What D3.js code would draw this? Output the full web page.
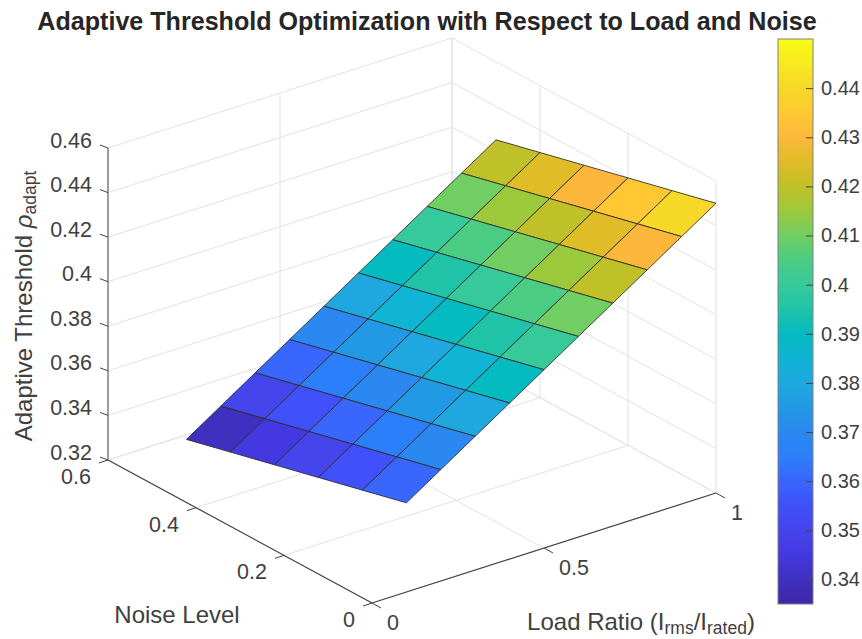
<!DOCTYPE html>
<html>
<head>
<meta charset="utf-8">
<style>
html,body{margin:0;padding:0;background:#fff;}
svg{display:block;}
text{font-family:"Liberation Sans",Arial,sans-serif;fill:#404040;}
</style>
<script src="https://cdnjs.cloudflare.com/ajax/libs/d3/7.8.5/d3.min.js"></script>
</head>
<body>
<svg id="chart" width="862" height="639"></svg>
<script>
const loadRatios = [0.1,0.2,0.3,0.4,0.5,0.6,0.7,0.8,0.9,1.0];
const noiseLevels = [0,0.1,0.2,0.3,0.4,0.5];
const thresholds = [
  [0.360,0.355,0.350,0.345,0.340,0.335],
  [0.370,0.365,0.360,0.355,0.350,0.345],
  [0.380,0.375,0.370,0.365,0.360,0.355],
  [0.390,0.385,0.380,0.375,0.370,0.365],
  [0.400,0.395,0.390,0.385,0.380,0.375],
  [0.410,0.405,0.400,0.395,0.390,0.385],
  [0.420,0.415,0.410,0.405,0.400,0.395],
  [0.430,0.425,0.420,0.415,0.410,0.405],
  [0.440,0.435,0.430,0.425,0.420,0.415],
  [0.450,0.445,0.440,0.435,0.430,0.425]
];
const loadTicks = [0,0.5,1];
const noiseTicks = [0,0.2,0.4,0.6];
const zTicks = [0.32,0.34,0.36,0.38,0.40,0.42,0.44,0.46];
const cbTicks = [0.34,0.35,0.36,0.37,0.38,0.39,0.40,0.41,0.42,0.43,0.44];
const colorDomain = [0.335,0.45];
const colorValues = [0.335,0.34,0.345,0.35,0.355,0.36,0.365,0.37,0.375,0.38,0.385,0.39,0.395,0.40,0.405,0.41,0.415,0.42,0.425,0.43,0.435,0.44,0.45];
const colorStops = ["#3E26A8","#4030C0","#4438E0","#4545EC","#4050FA","#3966FC","#2C7FFA","#2A88F0","#2299E4","#1FA8DF","#10B4D4","#04BBC0","#20C3A8","#36CA9A","#4ACD82","#70CE62","#9CC93C","#C0C028","#E0BC28","#FDB83B","#FFC832","#F6D828","#F9FB15"];

const fmt = v => String(+v.toFixed(2));
const svg = d3.select("#chart");

// Oblique axes of the orthographic view: each data axis adds a screen offset
const xFromLoad = d3.scaleLinear().domain([0,1]).range([372,716]);
const yFromLoad = d3.scaleLinear().domain([0,1]).range([603,493]);
const xFromNoise = d3.scaleLinear().domain([0,0.6]).range([0,-264]);
const yFromNoise = d3.scaleLinear().domain([0,0.6]).range([0,-143]);
const yFromZ = d3.scaleLinear().domain([0.32,0.46]).range([0,-312]);
const px = (l,n) => xFromLoad(l)+xFromNoise(n);
const py = (l,n,z) => yFromLoad(l)+yFromNoise(n)+yFromZ(z);
const P = (l,n,z) => [px(l,n),py(l,n,z)];

const zMin = zTicks[0], zMax = zTicks[zTicks.length-1];
const lMax = 1, nMax = 0.6;
const line = d3.line();

// Grid
const grid = [];
noiseTicks.forEach(n=>{
  grid.push([P(0,n,zMin),P(lMax,n,zMin)]);
  grid.push([P(lMax,n,zMin),P(lMax,n,zMax)]);
});
loadTicks.forEach(l=>{
  grid.push([P(l,0,zMin),P(l,nMax,zMin)]);
  grid.push([P(l,nMax,zMin),P(l,nMax,zMax)]);
});
zTicks.forEach(z=>{
  grid.push([P(0,nMax,z),P(lMax,nMax,z)]);
  grid.push([P(lMax,nMax,z),P(lMax,0,z)]);
});
svg.append("g").selectAll("path").data(grid).join("path")
  .attr("d",line).attr("fill","none").attr("stroke","#e2e2e2").attr("stroke-width",1);

// Surface
const color = d3.scaleLinear().domain(colorValues).range(colorStops).clamp(true);
const cells = [];
for(let i=loadRatios.length-2;i>=0;i--){
  for(let j=noiseLevels.length-2;j>=0;j--){
    const a=loadRatios[i],b=loadRatios[i+1],c=noiseLevels[j],d=noiseLevels[j+1];
    cells.push({v:thresholds[i][j],pts:[
      P(a,c,thresholds[i][j]),P(b,c,thresholds[i+1][j]),
      P(b,d,thresholds[i+1][j+1]),P(a,d,thresholds[i][j+1])]});
  }
}
svg.append("g").selectAll("path").data(cells).join("path")
  .attr("d",d=>line(d.pts)+"Z")
  .attr("fill",d=>color(d.v))
  .attr("stroke","#2b2b2b").attr("stroke-width",1).attr("stroke-opacity",0.85).attr("stroke-linejoin","round");

// Axes
const axisG = svg.append("g");
const seg = (p,q,col,w)=>axisG.append("path").attr("d",line([p,q])).attr("fill","none").attr("stroke",col).attr("stroke-width",w);
seg(P(0,0,zMin),P(lMax,0,zMin),"#444",1.2);
seg(P(0,0,zMin),P(0,nMax,zMin),"#444",1.2);
seg(P(0,nMax,zMin),P(0,nMax,zMax),"#8a8a8a",1.6);
loadTicks.forEach(l=>{const p=P(l,0,zMin);seg(p,[p[0]+9,p[1]+5],"#444",1);});
noiseTicks.forEach(n=>{const p=P(0,n,zMin);seg(p,[p[0]-9,p[1]+3],"#444",1);});
zTicks.forEach(z=>{const p=P(0,nMax,z);seg(p,[p[0]-8,p[1]-3],"#444",1);});

const TICK=21.5;
const label=(x,y,t,anchor)=>svg.append("text").attr("x",x).attr("y",y).attr("text-anchor",anchor||"middle")
  .attr("dominant-baseline","central").attr("font-size",TICK).text(t);
zTicks.forEach(z=>{const p=P(0,nMax,z);label(p[0]-16,p[1]-7.5,fmt(z),"end");});
noiseTicks.forEach(n=>{const p=P(0,n,zMin);label(p[0]-17,p[1]+17,fmt(n),"end");});
loadTicks.forEach(l=>{const p=P(l,0,zMin);label(p[0]+15,p[1]+20,fmt(l),"start");});

// Title
svg.append("text").attr("x",427).attr("y",30).attr("text-anchor","middle")
  .attr("font-size",25.1).attr("font-weight","bold").style("fill","#262626")
  .text("Adaptive Threshold Optimization with Respect to Load and Noise");

// Axis labels
const zl = svg.append("text").attr("transform","translate(32,306) rotate(-90)").attr("text-anchor","middle").attr("font-size",24);
zl.append("tspan").text("Adaptive Threshold ");
zl.append("tspan").attr("font-style","italic").text("ρ");
zl.append("tspan").attr("font-size",17.5).attr("dy",4).text("adapt");

svg.append("text").attr("x",177).attr("y",623).attr("text-anchor","middle").attr("font-size",24).text("Noise Level");

const xl = svg.append("text").attr("x",641).attr("y",630).attr("text-anchor","middle").attr("font-size",24);
xl.append("tspan").text("Load Ratio (I");
xl.append("tspan").attr("font-size",17.5).attr("dy",4).text("rms");
xl.append("tspan").attr("dy",-4).text("/I");
xl.append("tspan").attr("font-size",17.5).attr("dy",4).text("rated");
xl.append("tspan").attr("dy",-4).text(")");

// Colour bar
const cbScale = d3.scaleLinear().domain(colorDomain).range([604,39]);
const defs = svg.append("defs");
const grad = defs.append("linearGradient").attr("id","cb").attr("x1",0).attr("x2",0).attr("y1",1).attr("y2",0);
colorValues.forEach((v,i)=>grad.append("stop").attr("offset",(v-colorDomain[0])/(colorDomain[1]-colorDomain[0])).attr("stop-color",colorStops[i]));
svg.append("rect").attr("x",778).attr("y",39).attr("width",35).attr("height",565)
  .attr("fill","url(#cb)").attr("stroke","#808080").attr("stroke-width",1);
const cbAxis = d3.axisRight(cbScale).tickValues(cbTicks).tickSize(-7).tickPadding(8).tickFormat(fmt);
const cbG = svg.append("g").attr("transform","translate(813,0)").call(cbAxis);
cbG.select(".domain").remove();
cbG.selectAll("line").attr("stroke","#444");
cbG.selectAll("text").attr("font-size",20).attr("font-family",'"Liberation Sans",Arial,sans-serif').attr("fill","#404040");
</script>
</body>
</html>
